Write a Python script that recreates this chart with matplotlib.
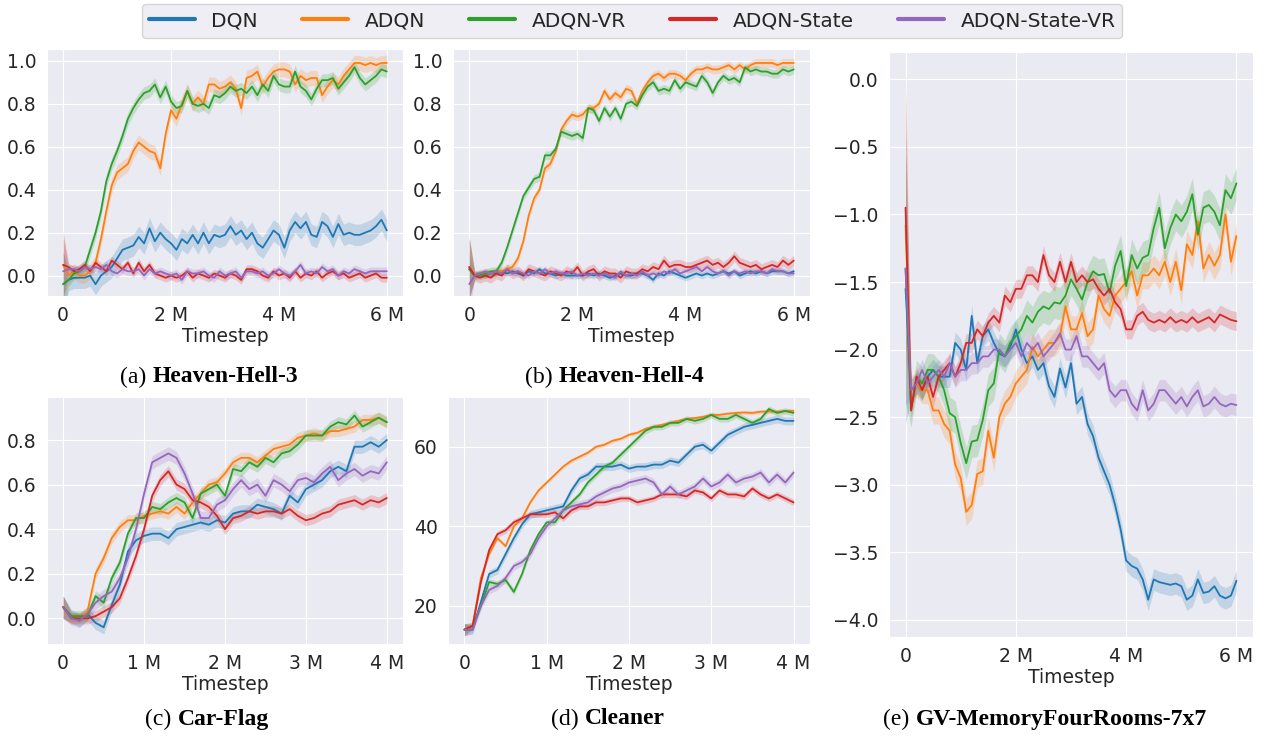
import numpy as np
import matplotlib.pyplot as plt
import seaborn as sns

sns.set_style("darkgrid")
plt.rcParams["font.family"] = ["DejaVu Sans"]

methods = ["DQN", "ADQN", "ADQN-VR", "ADQN-State", "ADQN-State-VR"]
colors = ["#1f77b4", "#ff7f0e", "#2ca02c", "#d62728", "#9467bd"]

# timesteps in millions (eval every 100k)
steps_6m = np.round(np.arange(0, 6.01, 0.1), 1)
steps_4m = np.round(np.arange(0, 4.01, 0.1), 1)

#%% (a) Heaven-Hell-3
hh3_dqn = [-0.04, -0.02, -0.01, -0.01, -0.01, 0.00, -0.04, 0.00, 0.02, 0.04,
           0.08, 0.12, 0.13, 0.14, 0.18, 0.15, 0.22, 0.16, 0.20, 0.17,
           0.15, 0.12, 0.17, 0.15, 0.19, 0.15, 0.20, 0.15, 0.19, 0.18,
           0.19, 0.23, 0.19, 0.21, 0.17, 0.20, 0.15, 0.13, 0.17, 0.21,
           0.19, 0.13, 0.21, 0.25, 0.22, 0.25, 0.19, 0.18, 0.25, 0.23,
           0.18, 0.24, 0.19, 0.20, 0.19, 0.19, 0.20, 0.21, 0.23, 0.26, 0.21]
hh3_adqn = [0.05, 0.00, 0.02, 0.00, 0.00, 0.02, 0.06, 0.17, 0.30, 0.42,
            0.48, 0.50, 0.52, 0.58, 0.62, 0.60, 0.58, 0.57, 0.50, 0.66,
            0.77, 0.73, 0.80, 0.86, 0.80, 0.83, 0.80, 0.89, 0.89, 0.87,
            0.88, 0.90, 0.87, 0.78, 0.92, 0.93, 0.95, 0.88, 0.92, 0.95,
            0.96, 0.96, 0.95, 0.89, 0.93, 0.91, 0.92, 0.92, 0.84, 0.88,
            0.91, 0.89, 0.93, 0.96, 0.99, 0.99, 0.98, 0.99, 0.98, 0.99, 0.99]
hh3_vr = [-0.04, -0.02, 0.01, 0.02, 0.04, 0.12, 0.20, 0.30, 0.44, 0.52,
          0.58, 0.65, 0.73, 0.78, 0.82, 0.85, 0.86, 0.89, 0.83, 0.88,
          0.81, 0.78, 0.79, 0.86, 0.80, 0.79, 0.80, 0.78, 0.84, 0.83,
          0.85, 0.88, 0.86, 0.87, 0.85, 0.88, 0.84, 0.89, 0.86, 0.93,
          0.89, 0.88, 0.88, 0.95, 0.88, 0.86, 0.82, 0.87, 0.91, 0.91,
          0.92, 0.87, 0.90, 0.93, 0.97, 0.92, 0.89, 0.91, 0.93, 0.96, 0.95]
hh3_state = [0.05, 0.04, 0.02, 0.03, 0.05, 0.02, 0.06, 0.04, 0.02, 0.07,
             0.05, 0.03, 0.06, 0.01, 0.06, 0.02, 0.05, 0.01, 0.00, -0.01,
             0.00, -0.01, 0.00, 0.02, -0.01, 0.01, 0.00, -0.01, 0.01, 0.00,
             -0.01, 0.01, 0.00, -0.02, 0.03, 0.03, 0.02, 0.00, -0.01, 0.02,
             0.00, 0.01, -0.01, 0.02, -0.01, 0.01, 0.00, 0.02, -0.01, 0.01,
             0.02, 0.00, 0.01, -0.01, 0.00, 0.01, -0.01, 0.00, 0.01, -0.01, -0.01]
hh3_state_vr = [0.02, 0.03, 0.03, 0.02, 0.04, 0.03, 0.04, 0.03, 0.05, 0.02,
                0.01, 0.03, 0.02, 0.02, 0.03, 0.00, 0.03, 0.01, 0.02, 0.01,
                0.00, 0.01, -0.02, 0.02, 0.01, 0.01, 0.02, 0.00, -0.01, 0.02,
                0.00, 0.01, 0.02, -0.01, 0.02, 0.02, 0.01, 0.02, 0.00, 0.01,
                0.03, 0.01, 0.00, 0.02, 0.05, 0.01, 0.02, 0.01, 0.04, 0.02,
                0.03, 0.00, 0.02, 0.01, 0.03, 0.02, 0.01, 0.02, 0.02, 0.02, 0.02]
hh3_band = [0.05, 0.035, 0.03, 0.02, 0.02]  # +- of shaded area
hh3_band0 = 0.15  # spread at first eval

#%% (b) Heaven-Hell-4
hh4_dqn = [0.03, 0.00, 0.01, 0.00, 0.01, 0.01, 0.02, 0.01, 0.02, 0.01,
           0.00, 0.02, 0.01, 0.03, 0.01, 0.01, 0.00, 0.01, 0.00, 0.00,
           0.00, 0.00, 0.01, 0.00, 0.01, 0.00, -0.01, 0.00, 0.01, 0.00,
           0.00, 0.01, 0.01, 0.00, -0.02, 0.01, 0.00, 0.02, 0.01, 0.00,
           -0.01, 0.00, 0.01, 0.00, 0.01, 0.00, 0.01, 0.02, 0.01, 0.02,
           0.00, 0.01, 0.02, 0.01, 0.02, 0.01, 0.02, 0.02, 0.02, 0.01, 0.02]
hh4_adqn = [0.04, 0.00, 0.01, 0.01, 0.01, 0.02, 0.02, 0.03, 0.04, 0.08,
            0.16, 0.28, 0.36, 0.40, 0.50, 0.52, 0.58, 0.68, 0.72, 0.75,
            0.74, 0.75, 0.78, 0.78, 0.80, 0.86, 0.82, 0.85, 0.83, 0.87,
            0.86, 0.80, 0.86, 0.90, 0.93, 0.94, 0.92, 0.94, 0.94, 0.93,
            0.91, 0.94, 0.96, 0.96, 0.97, 0.96, 0.96, 0.97, 0.98, 0.96,
            0.98, 0.96, 0.98, 0.99, 0.99, 0.99, 0.99, 0.98, 0.99, 0.99, 0.99]
hh4_vr = [0.03, 0.00, 0.00, 0.01, 0.02, 0.02, 0.06, 0.13, 0.21, 0.29,
          0.37, 0.41, 0.45, 0.46, 0.56, 0.56, 0.59, 0.67, 0.66, 0.65,
          0.66, 0.64, 0.78, 0.77, 0.72, 0.78, 0.74, 0.78, 0.73, 0.80,
          0.81, 0.79, 0.84, 0.88, 0.90, 0.86, 0.87, 0.86, 0.91, 0.87,
          0.90, 0.89, 0.88, 0.93, 0.90, 0.85, 0.90, 0.93, 0.91, 0.92,
          0.90, 0.97, 0.95, 0.96, 0.95, 0.95, 0.94, 0.94, 0.96, 0.95, 0.96]
hh4_state = [0.04, 0.00, -0.01, 0.00, -0.01, 0.01, 0.00, 0.03, 0.01, 0.02,
             0.00, 0.03, 0.02, 0.01, 0.00, 0.02, 0.01, 0.00, 0.02, 0.01,
             0.04, 0.00, 0.02, 0.03, 0.00, 0.02, 0.01, 0.01, -0.01, 0.02,
             0.01, 0.01, 0.03, 0.02, 0.04, 0.03, 0.07, 0.04, 0.05, 0.05,
             0.04, 0.04, 0.05, 0.06, 0.07, 0.05, 0.06, 0.04, 0.06, 0.09,
             0.06, 0.05, 0.04, 0.05, 0.03, 0.04, 0.05, 0.04, 0.07, 0.05, 0.07]
hh4_state_vr = [-0.04, 0.00, 0.01, 0.02, 0.01, 0.02, 0.01, 0.03, 0.01, 0.02,
                0.01, 0.00, 0.02, 0.01, 0.03, 0.01, 0.02, 0.01, 0.01, 0.02,
                0.00, 0.01, 0.00, 0.01, 0.00, 0.01, 0.00, -0.01, 0.02, 0.00,
                0.01, 0.00, 0.02, 0.00, 0.01, 0.00, 0.02, 0.01, 0.03, 0.01,
                0.02, 0.03, 0.04, 0.02, 0.04, 0.02, 0.01, 0.02, 0.00, 0.02,
                0.01, 0.02, 0.01, 0.02, 0.02, 0.01, 0.03, 0.02, 0.02, 0.01, 0.01]
hh4_band = [0.015, 0.02, 0.02, 0.025, 0.015]
hh4_band0 = 0.14

#%% (c) Car-Flag
cf_dqn = [0.05, 0.01, -0.01, 0.02, -0.02, -0.04, 0.06, 0.15, 0.30, 0.35,
          0.37, 0.38, 0.38, 0.36, 0.40, 0.41, 0.42, 0.43, 0.42, 0.44,
          0.43, 0.47, 0.48, 0.48, 0.51, 0.50, 0.49, 0.47, 0.55, 0.52,
          0.58, 0.60, 0.62, 0.66, 0.68, 0.66, 0.77, 0.77, 0.79, 0.77, 0.80]
cf_adqn = [0.05, 0.00, 0.00, 0.03, 0.20, 0.27, 0.36, 0.41, 0.44, 0.44,
           0.46, 0.47, 0.48, 0.47, 0.50, 0.47, 0.52, 0.56, 0.60, 0.61,
           0.65, 0.70, 0.72, 0.72, 0.70, 0.73, 0.76, 0.77, 0.78, 0.81,
           0.82, 0.83, 0.82, 0.84, 0.84, 0.85, 0.86, 0.89, 0.89, 0.90, 0.88]
cf_vr = [0.05, 0.01, 0.01, 0.01, 0.10, 0.07, 0.18, 0.25, 0.38, 0.45,
         0.45, 0.50, 0.49, 0.52, 0.54, 0.52, 0.45, 0.56, 0.58, 0.60,
         0.55, 0.67, 0.66, 0.70, 0.68, 0.72, 0.70, 0.74, 0.75, 0.78,
         0.82, 0.82, 0.82, 0.86, 0.88, 0.87, 0.91, 0.86, 0.88, 0.90, 0.88]
cf_state = [0.05, 0.00, 0.00, 0.00, 0.01, 0.03, 0.05, 0.09, 0.18, 0.28,
            0.40, 0.55, 0.62, 0.66, 0.60, 0.58, 0.53, 0.52, 0.50, 0.46,
            0.40, 0.45, 0.46, 0.48, 0.47, 0.48, 0.48, 0.47, 0.49, 0.46,
            0.44, 0.45, 0.47, 0.48, 0.51, 0.52, 0.53, 0.51, 0.53, 0.52, 0.54]
cf_state_vr = [0.05, 0.00, -0.01, 0.02, 0.07, 0.10, 0.12, 0.18, 0.27, 0.40,
               0.56, 0.70, 0.72, 0.74, 0.72, 0.65, 0.56, 0.45, 0.45, 0.51,
               0.53, 0.58, 0.62, 0.58, 0.60, 0.55, 0.62, 0.60, 0.57, 0.62,
               0.63, 0.61, 0.65, 0.68, 0.62, 0.65, 0.67, 0.64, 0.66, 0.65, 0.70]
cf_band = [0.03, 0.025, 0.025, 0.025, 0.03]
cf_band0 = 0.05

#%% (d) Cleaner
cl_dqn = [14, 14, 21, 28, 29, 33, 37, 40.5, 43, 43.5,
          44, 44.5, 45, 49, 52, 53, 55, 55, 55, 55.5,
          54.5, 55, 55, 55.5, 55.5, 56.5, 56, 58, 60, 60.5,
          59, 61, 63, 64, 65, 65.5, 66, 66.5, 67, 66.5, 66.5]
cl_adqn = [14, 15, 27, 33, 37, 35, 40, 42, 46, 49,
           51, 53, 55, 56.5, 57.5, 58.5, 60, 60.5, 61.5, 62,
           63, 63.5, 64.5, 65, 65.5, 66, 66.5, 67, 67.2, 67.5,
           68, 68, 68.3, 68.5, 68.6, 68.5, 68.8, 68.9, 68.8, 69, 69]
cl_vr = [14, 15, 20, 26, 25.5, 26.5, 23.5, 28, 34, 38,
         41, 41, 44, 46, 48, 51, 53, 55, 56, 58,
         60, 62, 64, 65, 65, 66, 66, 67, 66.5, 67,
         68, 67, 67, 68, 67, 66, 67, 69.5, 68.5, 69, 68.5]
cl_state = [14, 15, 26, 34, 38, 39, 41, 42, 43, 43,
            43, 43.5, 42, 44, 45, 45, 46, 46, 46.5, 47,
            47, 46, 46.5, 47, 48, 48, 48, 47.5, 49, 48.5,
            47, 49, 48, 48, 47.5, 49.5, 48, 47, 48, 47, 46]
cl_state_vr = [14, 14, 20, 24, 25, 27, 30, 31, 33, 37,
               40, 42, 44, 45, 45.5, 46, 47.5, 48.5, 49.5, 50,
               51, 51.5, 52, 51, 48, 50, 48, 49, 50, 52,
               50, 51, 53, 51, 52, 52.5, 53.5, 51, 53, 51, 53.5]
cl_band = [1.0, 0.5, 0.8, 0.8, 1.0]
cl_band0 = 1.5

#%% (e) GV-MemoryFourRooms-7x7
gv_dqn = [-1.55, -2.3, -2.25, -2.3, -2.2, -2.15, -2.2, -2.2, -2.2, -1.95,
          -2.0, -2.15, -1.75, -2.1, -1.9, -1.85, -1.95, -2.03, -2.05, -1.98,
          -1.85, -2.0, -2.1, -2.05, -2.15, -2.1, -2.27, -2.35, -2.14, -2.28,
          -2.1, -2.4, -2.35, -2.55, -2.64, -2.8, -2.9, -3.0, -3.15, -3.33,
          -3.56, -3.6, -3.62, -3.7, -3.85, -3.7, -3.72, -3.73, -3.74, -3.73,
          -3.75, -3.85, -3.82, -3.7, -3.8, -3.79, -3.75, -3.82, -3.84, -3.82, -3.71]
gv_adqn = [-1.08, -2.3, -2.25, -2.3, -2.3, -2.45, -2.45, -2.55, -2.6, -2.85,
           -2.95, -3.2, -3.15, -2.92, -2.9, -2.6, -2.8, -2.5, -2.4, -2.35,
           -2.25, -2.2, -2.15, -1.98, -2.05, -2.0, -1.95, -1.95, -1.9, -1.68,
           -1.85, -1.85, -1.73, -1.9, -1.85, -1.6, -1.7, -1.75, -1.6, -1.55,
           -1.5, -1.42, -1.6, -1.45, -1.45, -1.4, -1.45, -1.35, -1.5, -1.35,
           -1.56, -1.22, -1.3, -1.05, -1.4, -1.3, -1.38, -1.3, -1.0, -1.35, -1.16]
gv_vr = [-1.4, -2.45, -2.2, -2.25, -2.15, -2.15, -2.2, -2.3, -2.47, -2.5,
         -2.69, -2.84, -2.68, -2.67, -2.52, -2.3, -2.25, -2.0, -2.05, -1.95,
         -1.9, -1.85, -1.75, -1.8, -1.72, -1.68, -1.7, -1.65, -1.66, -1.6,
         -1.48, -1.55, -1.63, -1.5, -1.42, -1.45, -1.44, -1.58, -1.38, -1.27,
         -1.53, -1.3, -1.4, -1.32, -1.3, -1.1, -0.95, -1.25, -1.1, -1.0,
         -1.05, -0.98, -0.85, -1.15, -0.95, -0.93, -0.98, -1.08, -0.82, -0.88, -0.77]
gv_state = [-0.95, -2.45, -2.2, -2.3, -2.2, -2.35, -2.2, -2.15, -2.1, -2.2,
            -2.1, -1.95, -1.95, -1.85, -1.9, -1.8, -1.75, -1.8, -1.6, -1.65,
            -1.55, -1.55, -1.45, -1.45, -1.5, -1.3, -1.45, -1.5, -1.35, -1.5,
            -1.35, -1.5, -1.45, -1.5, -1.48, -1.55, -1.6, -1.55, -1.65, -1.7,
            -1.85, -1.85, -1.75, -1.72, -1.78, -1.8, -1.78, -1.8, -1.76, -1.8,
            -1.78, -1.8, -1.76, -1.8, -1.78, -1.76, -1.8, -1.74, -1.76, -1.78, -1.79]
gv_state_vr = [-1.4, -2.3, -2.25, -2.15, -2.25, -2.2, -2.15, -2.2, -2.1, -2.2,
               -2.15, -2.15, -2.1, -2.1, -2.05, -2.05, -2.0, -2.0, -2.05, -2.0,
               -1.95, -2.05, -1.95, -2.0, -1.95, -2.05, -2.0, -1.95, -1.88, -2.0,
               -2.0, -1.9, -2.05, -2.05, -2.1, -2.15, -2.1, -2.3, -2.35, -2.3,
               -2.3, -2.4, -2.45, -2.3, -2.45, -2.4, -2.3, -2.3, -2.35, -2.4,
               -2.35, -2.42, -2.35, -2.3, -2.42, -2.4, -2.35, -2.4, -2.42, -2.4, -2.41]
gv_band = [0.08, 0.1, 0.12, 0.07, 0.08]
gv_band0 = 1.0

#%%
W, H = 1265, 736
fig = plt.figure(figsize=(W / 100, H / 100), dpi=100)


def px_axes(l, t, r, b):
    return fig.add_axes([l / W, 1 - b / H, (r - l) / W, (b - t) / H])


def draw(ax, x, series, band, band0):
    for y, hw, c in zip(series, band, colors):
        y = np.asarray(y, dtype=float)
        hw = np.full(len(y), hw)
        hw[0] = band0
        ax.fill_between(x, y - hw, y + hw, color=c, alpha=0.2, lw=0)
        ax.plot(x, y, color=c, lw=1.3)


panels = [
    (px_axes(47, 49, 403, 296), steps_6m,
     [hh3_dqn, hh3_adqn, hh3_vr, hh3_state, hh3_state_vr], hh3_band, hh3_band0,
     (-0.095, 1.055), np.arange(0, 1.01, 0.2), "%.1f"),
    (px_axes(453, 49, 810, 296), steps_6m,
     [hh4_dqn, hh4_adqn, hh4_vr, hh4_state, hh4_state_vr], hh4_band, hh4_band0,
     (-0.095, 1.055), np.arange(0, 1.01, 0.2), "%.1f"),
    (px_axes(47, 397, 403, 644), steps_4m,
     [cf_dqn, cf_adqn, cf_vr, cf_state, cf_state_vr], cf_band, cf_band0,
     (-0.115, 0.993), np.arange(0, 0.81, 0.2), "%.1f"),
    (px_axes(448, 397, 810, 644), steps_4m,
     [cl_dqn, cl_adqn, cl_vr, cl_state, cl_state_vr], cl_band, cl_band0,
     (10.4, 72.5), [20, 40, 60], "%d"),
    (px_axes(889, 52, 1253, 637), steps_6m,
     [gv_dqn, gv_adqn, gv_vr, gv_state, gv_state_vr], gv_band, gv_band0,
     (-4.126, 0.202), np.arange(-4.0, 0.01, 0.5), "%.1f"),
]

for ax, x, series, band, band0, ylim, yticks, fmt in panels:
    draw(ax, x, series, band, band0)
    xmax = x[-1]
    ax.set_xlim(-0.05 * xmax, 1.05 * xmax)
    ax.set_ylim(*ylim)
    xt = np.arange(0, xmax + 0.01, 2 if xmax > 4 else 1)
    ax.set_xticks(xt)
    ax.set_xticklabels(["0"] + ["%d M" % v for v in xt[1:]])
    ax.set_yticks(yticks)
    ax.set_yticklabels([(fmt % v).replace("-", "\u2212") for v in yticks])
    ax.tick_params(labelsize=13.5, colors="#262626", pad=4)
    ax.set_xlabel("Timestep", fontsize=13.5, color="#262626", labelpad=1)

# legend on top
handles = [plt.Line2D([], [], color=c, lw=3) for c in colors]
fig.legend(handles, methods, loc="center", bbox_to_anchor=(632 / W, 1 - 21 / H),
           ncol=5, fontsize=14.5, handlelength=2.3, columnspacing=2.2,
           handletextpad=0.8, frameon=True, borderpad=0.35)

# captions: "(x)" regular + bold env name
captions = [(209, 377, "(a)", "Heaven-Hell-3"), (615, 377, "(b)", "Heaven-Hell-4"),
            (207, 719, "(c)", "Car-Flag"), (608, 719, "(d)", "Cleaner"),
            (1045, 719, "(e)", "GV-MemoryFourRooms-7x7")]
renderer = fig.canvas.get_renderer()
for xc, yc, tag, name in captions:
    t1 = fig.text(0, 1 - yc / H, tag + " ", fontsize=17, family="Liberation Serif",
                  va="center", color="black")
    t2 = fig.text(0, 1 - yc / H, name, fontsize=17, family="Liberation Serif",
                  weight="bold", va="center", color="black")
    w1 = t1.get_window_extent(renderer).width
    w2 = t2.get_window_extent(renderer).width
    x0 = xc - (w1 + w2) / 2
    t1.set_x(x0 / W)
    t2.set_x((x0 + w1) / W)

fig.savefig("out.png", dpi=100)
